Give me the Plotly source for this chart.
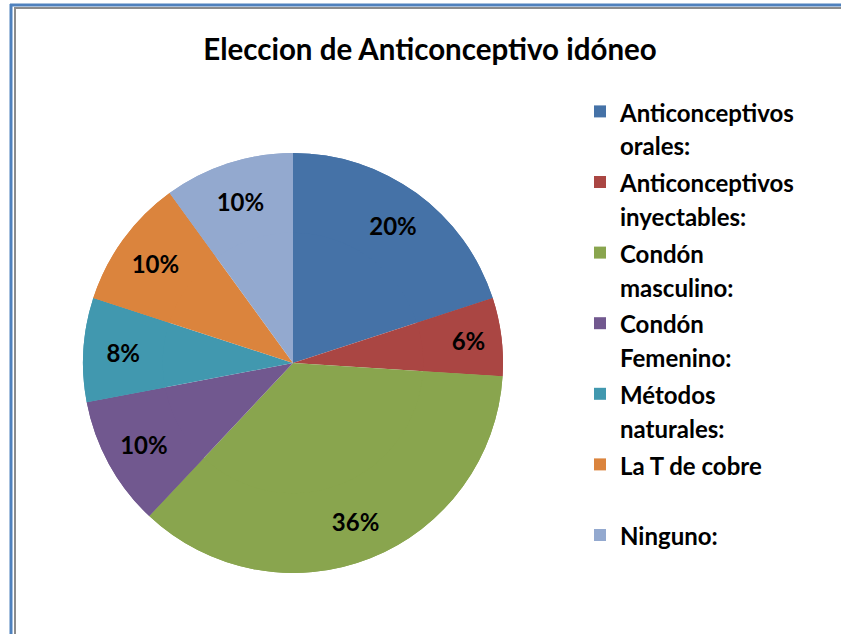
import plotly.graph_objects as go

labels = ["Anticonceptivos<br>orales:", "Anticonceptivos<br>inyectables:", "Condón<br>masculino:",
          "Condón<br>Femenino:", "Métodos<br>naturales:", "La T de cobre<br> ", "Ninguno:"]
values = [20, 6, 36, 10, 8, 10, 10]
colors = ["#4572A7", "#AA4643", "#89A54E", "#71588F", "#4198AF", "#DB843D", "#93A9CF"]
title = "Eleccion de Anticonceptivo idóneo"

W, H = 841, 634
def px(x):
    return x / W
def py(y):
    return 1 - y / H

cx, cy, r = 293, 363, 210
dom_x = [px(cx - r), px(cx + r)]
dom_y = [py(cy + r), py(cy - r)]

def styled(lbl):
    return "<br>".join(f"<span style='font-size:24px'><b>{p}</b></span>" if p.strip() else p
                       for p in lbl.split("<br>"))

legend_labels = [styled(l) for l in labels]

fig = go.Figure()
fig.add_trace(go.Pie(
    labels=legend_labels, values=values, sort=False, direction="clockwise", rotation=0,
    marker=dict(colors=colors, line=dict(width=0)),
    textinfo="none", domain=dict(x=dom_x, y=dom_y), hoverinfo="label+percent",
    showlegend=True,
))
fig.add_trace(go.Pie(
    labels=legend_labels, values=values, sort=False, direction="clockwise", rotation=0,
    hole=0.62, marker=dict(colors=colors, line=dict(width=0)),
    texttemplate="<b>%{percent:.0%}</b>", textposition="inside",
    insidetextorientation="horizontal",
    textfont=dict(family="Lato", size=24, color="black"),
    domain=dict(x=dom_x, y=dom_y), showlegend=False,
))

shapes = [
    dict(type="line", xref="paper", yref="paper", x0=px(11), x1=px(11), y0=0, y1=py(4),
         line=dict(color="#4F81BD", width=3)),
    dict(type="line", xref="paper", yref="paper", x0=px(10), x1=1, y0=py(5), y1=py(5),
         line=dict(color="#4F81BD", width=3)),
    dict(type="line", xref="paper", yref="paper", x0=px(15), x1=px(15), y0=0, y1=py(7),
         line=dict(color="#8C8C8C", width=2)),
    dict(type="line", xref="paper", yref="paper", x0=px(14), x1=1, y0=py(8), y1=py(8),
         line=dict(color="#8C8C8C", width=2)),
]

fig.update_layout(
    width=W, height=H, margin=dict(l=0, r=0, t=0, b=0),
    paper_bgcolor="white", plot_bgcolor="white",
    font=dict(family="Lato", color="black"),
    title=dict(text=f"<b>{title}</b>", x=px(430), xanchor="center", y=py(50), yanchor="middle",
               font=dict(family="Lato", size=29.5, color="black")),
    legend=dict(x=px(580), xanchor="left", y=py(88), yanchor="top", valign="top",
                font=dict(family="Lato", size=26, color="black"), bgcolor="rgba(0,0,0,0)"),
    shapes=shapes,
)

fig.write_html("out.html", config={"displayModeBar": False},
               post_script="document.body.style.margin='0';document.body.style.overflow='hidden';")
